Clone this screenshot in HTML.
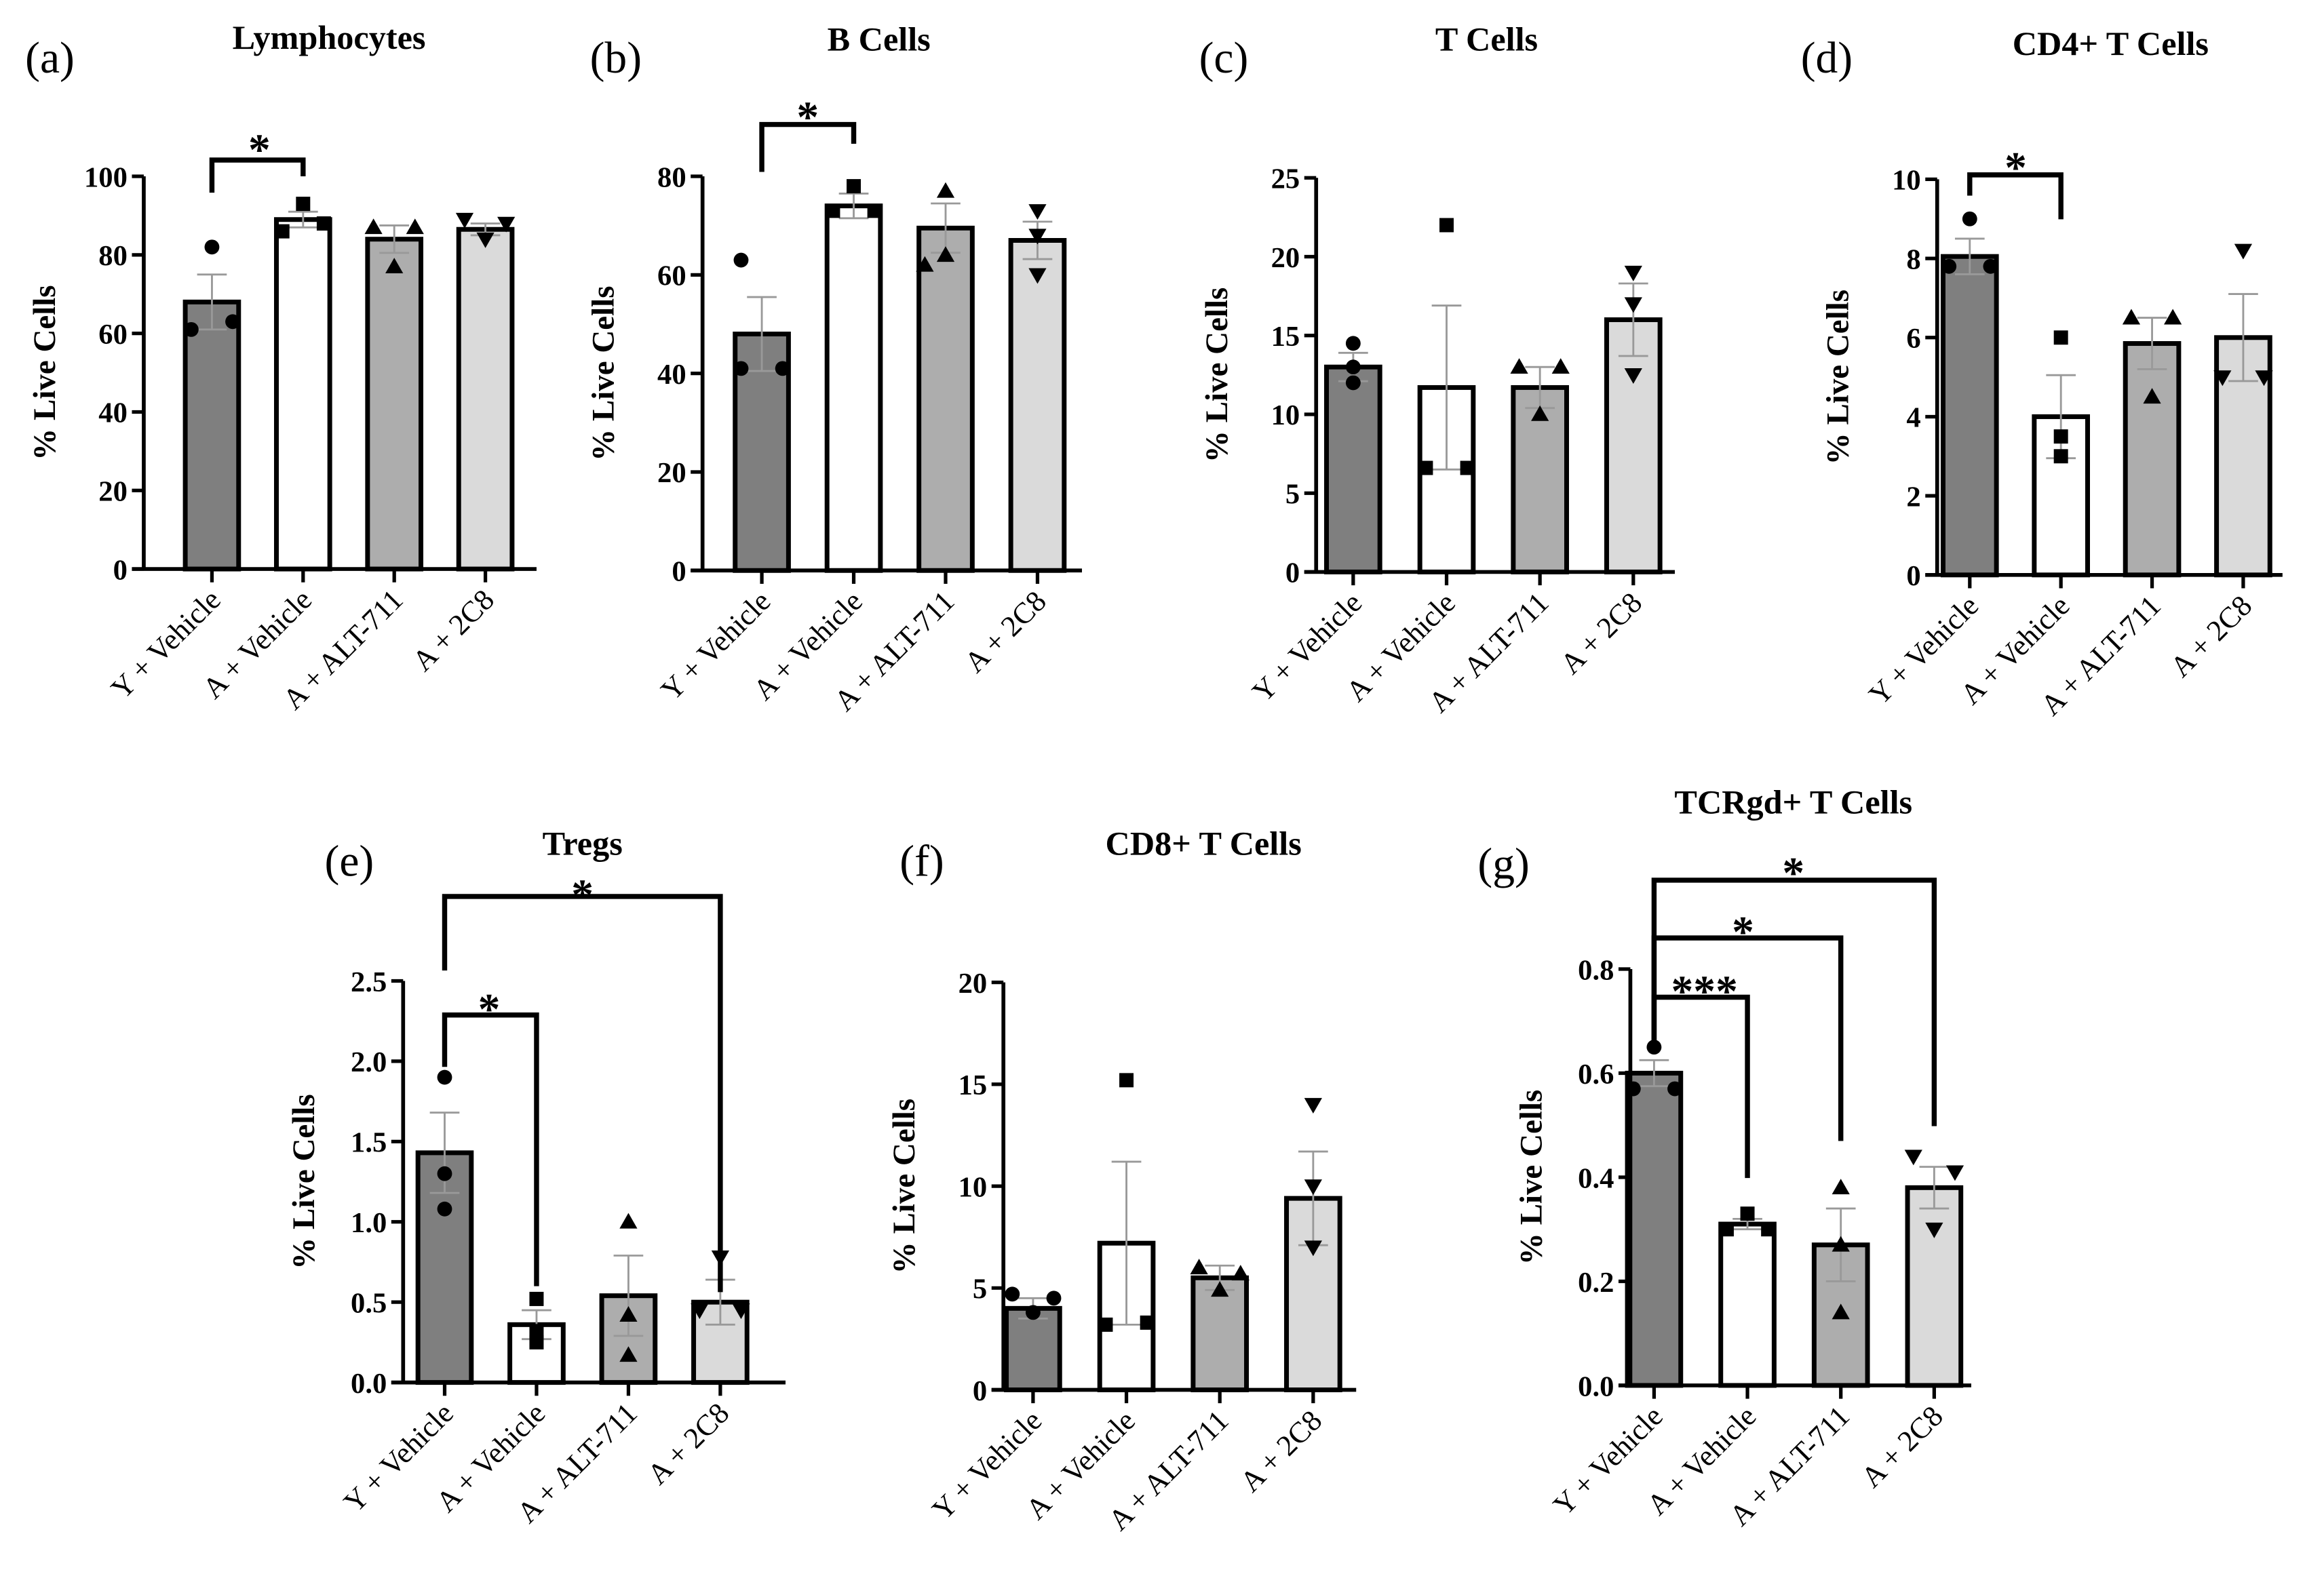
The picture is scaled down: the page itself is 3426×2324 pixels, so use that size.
<!DOCTYPE html>
<html><head><meta charset="utf-8"><style>
html,body{margin:0;padding:0;background:#fff}
svg{display:block}
text{font-family:"Liberation Serif",serif}
</style></head><body>
<svg id="fig" width="3426" height="2324" viewBox="0 0 1568 1063.6" xmlns="http://www.w3.org/2000/svg"></svg>
<script>
const categories=["Y + Vehicle","A + Vehicle","A + ALT-711","A + 2C8"];
const fills=["#7f7f7f","#ffffff","#adadad","#dadada"];
const markers=["circle","square","up","down"];

const aVals=[68,89,84,86.5];
const aErr=[7,2,3.5,1.5];
const aPts=[[82,61,63],[93,86,88],[87,87,77],[89,88,84]];
const bVals=[48,74,69.5,67];
const bErr=[7.5,2.5,5,3.8];
const bPts=[[63,41,41],[78,73,73],[77,64,62],[73,68,60]];
const cVals=[13,11.7,11.7,16];
const cErr=[0.9,5.2,1.3,2.3];
const cPts=[[14.5,13,12],[22,6.6,6.6],[13,13,10],[19,17,12.5]];
const dVals=[8.05,4.0,5.85,6.0];
const dErr=[0.45,1.05,0.65,1.1];
const dPts=[[9,7.8,7.8],[6,3.5,3],[6.5,6.5,4.5],[8.2,5.0,5.0]];
const eVals=[1.43,0.36,0.54,0.5];
const eErr=[0.25,0.09,0.25,0.14];
const ePts=[[1.9,1.3,1.08],[0.52,0.32,0.25],[1.0,0.42,0.17],[0.78,0.45,0.45]];
const fVals=[4.0,7.2,5.5,9.4];
const fErr=[0.5,4.0,0.6,2.3];
const fPts=[[4.7,3.8,4.5],[15.2,3.2,3.3],[6,5.7,4.9],[14,10,7]];
const gVals=[0.6,0.31,0.27,0.38];
const gErr=[0.025,0.01,0.07,0.04];
const gPts=[[0.65,0.57,0.57],[0.33,0.3,0.3],[0.38,0.27,0.14],[0.44,0.41,0.3]];

const svg=document.getElementById('fig');
const NS="http://www.w3.org/2000/svg";
function el(tag,attrs,parent,txt){const e=document.createElementNS(NS,tag);for(const k in attrs)e.setAttribute(k,attrs[k]);if(txt!==undefined)e.textContent=txt;(parent||svg).appendChild(e);return e;}

const panels=[
 {id:'a',label:'(a)',title:'Lymphocytes',lx:17,ly:49,tx:222,ty:33,ax:97,y0:384,yT:119,max:100,step:20,dec:0,c0:143,sp:61.5,xe:362,vals:aVals,err:aErr,pts:aPts,cols:[[0,-1,1],[0,-1,1],[-1,1,0],[-1,1,0]],
  br:[{i:0,j:1,top:108,l:130,r:119,star:'*',sx:175,sy:100}]},
 {id:'b',label:'(b)',title:'B Cells',lx:398,ly:49,tx:593,ty:34,ax:474,y0:385,yT:119,max:80,step:20,dec:0,c0:514,sp:62,xe:730,vals:bVals,err:bErr,pts:bPts,cols:[[-1,-1,1],[0,-1,1],[0,0,-1],[0,0,0]],
  br:[{i:0,j:1,top:84,l:116,r:97,star:'*',sx:545,sy:78}]},
 {id:'c',label:'(c)',title:'T Cells',lx:809,ly:49,tx:1003,ty:34,ax:888,y0:386,yT:120,max:25,step:5,dec:0,c0:913,sp:63,xe:1130,vals:cVals,err:cErr,pts:cPts,cols:[[0,0,0],[0,-1,1],[-1,1,0],[0,0,0]],br:[]},
 {id:'d',label:'(d)',title:'CD4+ T Cells',lx:1215,ly:49,tx:1424,ty:37,ax:1307,y0:388,yT:121,max:10,step:2,dec:0,c0:1329,sp:61.5,xe:1540,vals:dVals,err:dErr,pts:dPts,cols:[[0,-1,1],[0,0,0],[-1,1,0],[0,-1,1]],
  br:[{i:0,j:1,top:118,l:132,r:148,star:'*',sx:1360,sy:112}]},
 {id:'e',label:'(e)',title:'Tregs',lx:219,ly:591,tx:393,ty:577,ax:272,y0:933,yT:662,max:2.5,step:0.5,dec:1,c0:300,sp:62,xe:530,vals:eVals,err:eErr,pts:ePts,cols:[[0,0,0],[0,0,0],[0,0,0],[0,-1,1]],
  br:[{i:0,j:3,top:605,l:655,r:872,star:'*',sx:393,sy:603},{i:0,j:1,top:685,l:720,r:868,star:'*',sx:330,sy:680}]},
 {id:'f',label:'(f)',title:'CD8+ T Cells',lx:607,ly:591,tx:812,ty:577,ax:677,y0:938,yT:663,max:20,step:5,dec:0,c0:697,sp:63,xe:915,vals:fVals,err:fErr,pts:fPts,cols:[[-1,0,1],[0,-1,1],[-1,1,0],[0,0,0]],br:[]},
 {id:'g',label:'(g)',title:'TCRgd+ T Cells',lx:997,ly:593,tx:1210,ty:549,ax:1100,y0:935,yT:654,max:0.8,step:0.2,dec:1,c0:1116,sp:63,xe:1330,vals:gVals,err:gErr,pts:gPts,cols:[[0,-1,1],[0,-1,1],[0,0,0],[-1,1,0]],
  br:[{i:0,j:3,top:594,l:705,r:760,star:'*',sx:1210,sy:588},{i:0,j:2,top:633,l:705,r:770,star:'*',sx:1176,sy:628},{i:0,j:1,top:673,l:705,r:795,star:'***',sx:1150,sy:668}]}
];

const BW=36;
panels.forEach(p=>{
  const g=el('g',{});
  
  
  const yS=v=>p.y0-(v/p.max)*(p.y0-p.yT);
  const xS=i=>p.c0+i*p.sp;
  const pl=el('text',{x:p.lx,y:p.ly,'font-size':30},g,p.label);
  
  
  const tt=el('text',{x:p.tx,y:p.ty,'font-size':23,'font-weight':'bold','text-anchor':'middle'},g,p.title);
  
  
  const yl=el('text',{x:0,y:0,'font-size':21.5,'font-weight':'bold','text-anchor':'middle',transform:`translate(${p.ax-60},${(p.y0+p.yT)/2}) rotate(-90)`},g,'% Live Cells');
  
  
  p.vals.forEach((v,i)=>{
    const x=xS(i);
    const r=el('rect',{x:x-BW/2,y:yS(v),width:BW,height:p.y0-yS(v),fill:fills[i],stroke:'#000','stroke-width':3.2},g);
    
    
    const e=p.err[i];
    const eb=el('path',{d:`M${x},${yS(v-e)}V${yS(v+e)}M${x-10},${yS(v+e)}H${x+10}M${x-10},${yS(v-e)}H${x+10}`,stroke:'#999','stroke-width':1.3,fill:'none'},g);
    
    
    p.pts[i].forEach((pv,k)=>{
      const px=x+p.cols[i][k]*14, py=yS(pv);
      const m=markers[i];let s;
      if(m==='circle') s=el('circle',{cx:px,cy:py,r:5,fill:'#000'},g);
      else if(m==='square') s=el('rect',{x:px-4.8,y:py-4.8,width:9.6,height:9.6,fill:'#000'},g);
      else if(m==='up') s=el('path',{d:`M${px},${py-6}L${px+6},${py+4.5}L${px-6},${py+4.5}Z`,fill:'#000'},g);
      else s=el('path',{d:`M${px},${py+6}L${px+6},${py-4.5}L${px-6},${py-4.5}Z`,fill:'#000'},g);
      
      
    });
  });
  const ya=el('path',{d:`M${p.ax},${p.yT}V${p.y0}`,stroke:'#000','stroke-width':2.6,fill:'none'},g);
  
  
  const xa=el('path',{d:`M${p.ax-8},${p.y0}H${p.xe}`,stroke:'#000','stroke-width':2.6,fill:'none'},g);
  
  
  for(let v=0;v<=p.max+1e-9;v+=p.step){
    const y=yS(v);
    el('path',{d:`M${p.ax-8},${y}H${p.ax}`,stroke:'#000','stroke-width':2.4},g);
    const t=el('text',{x:p.ax-11,y:y+7,'font-size':19.5,'font-weight':'bold','text-anchor':'end'},g,v.toFixed(p.dec));
    
    
  }
  categories.forEach((c,i)=>{
    const x=xS(i);
    el('path',{d:`M${x},${p.y0}V${p.y0+9}`,stroke:'#000','stroke-width':2.4},g);
    const t=el('text',{x:0,y:0,'font-size':20,'text-anchor':'end',transform:`translate(${x+7},${p.y0+22}) rotate(-45)`},g,c);
    
    
  });
  p.br.forEach(b=>{
    const x1=xS(b.i),x2=xS(b.j);
    const bp=el('path',{d:`M${x1},${b.l}V${b.top}H${x2}V${b.r}`,stroke:'#000','stroke-width':3.4,fill:'none'},g);
    
    
    const st=el('text',{x:b.sx,y:b.sy+11,'font-size':30,'font-weight':'bold','text-anchor':'middle','font-family':'"DejaVu Sans",sans-serif'},g,b.star);
    
    
  });
});
</script>
</body></html>
